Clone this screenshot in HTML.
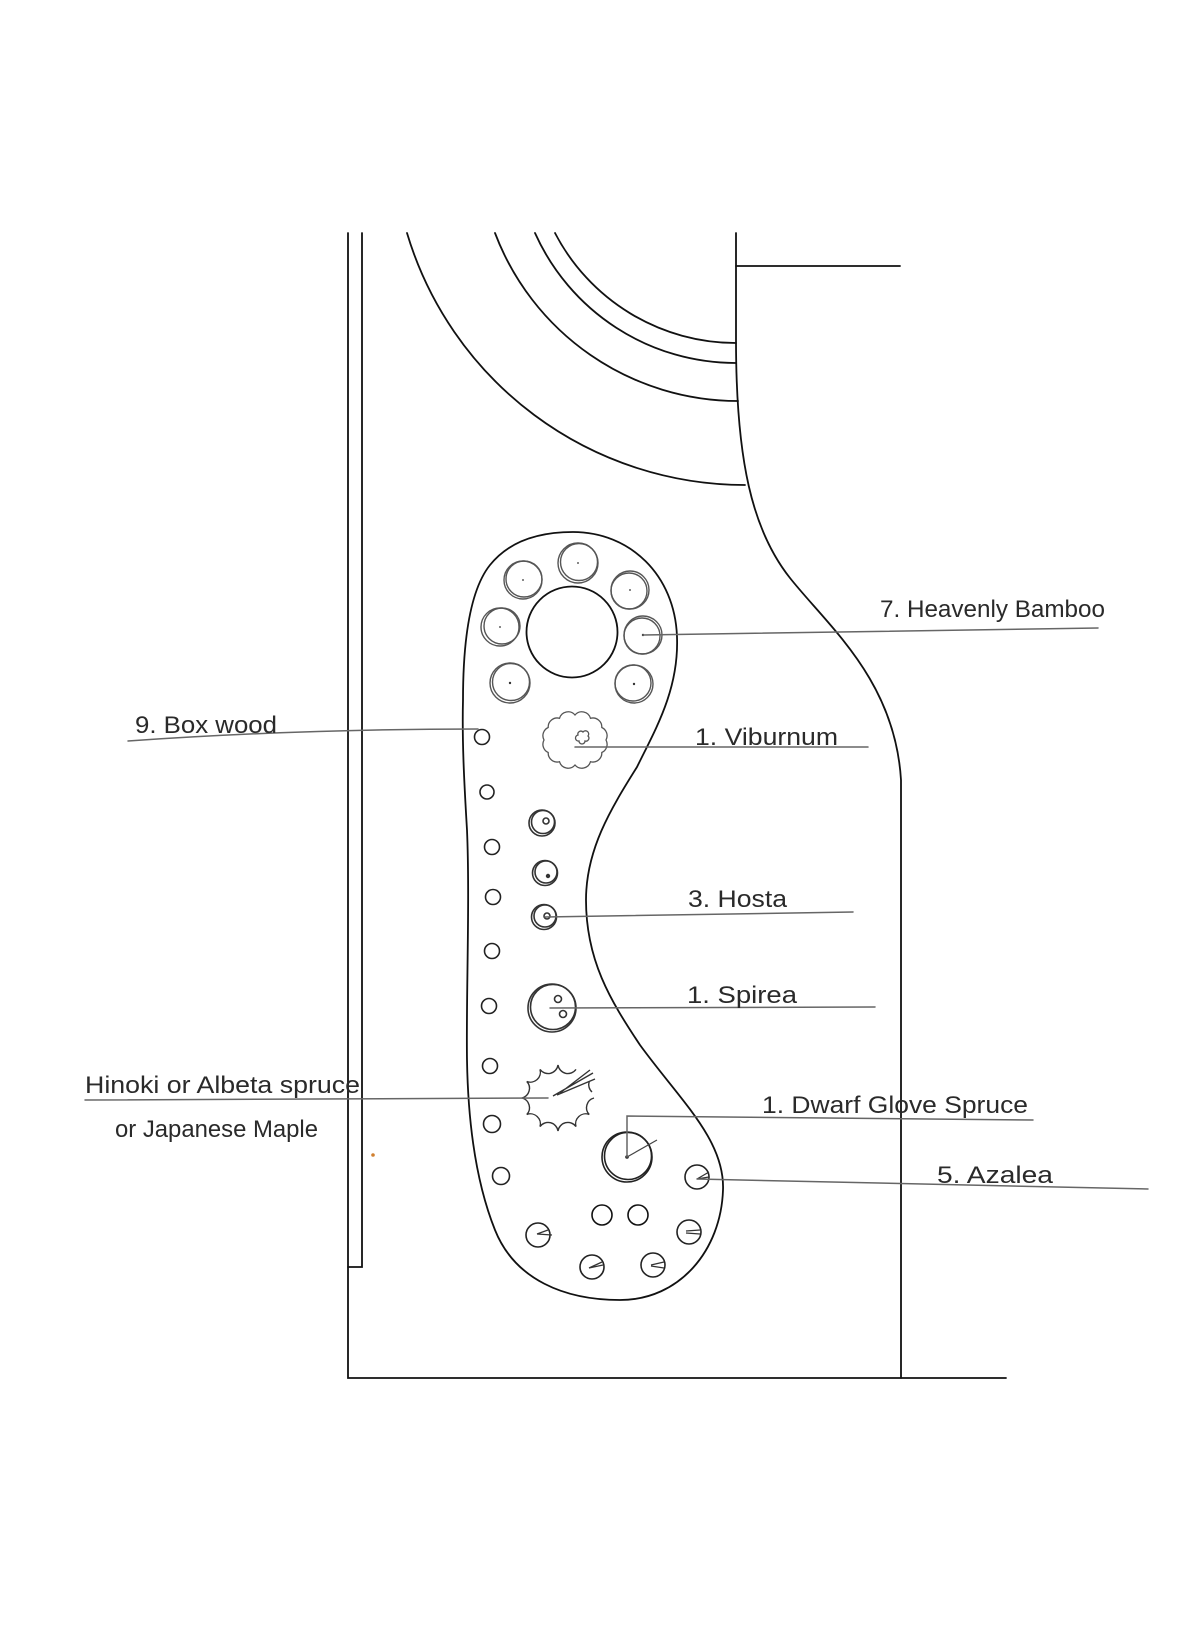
<!DOCTYPE html>
<html>
<head>
<meta charset="utf-8">
<style>
  html, body { margin: 0; padding: 0; background: #ffffff; }
  body { width: 1200px; height: 1650px; overflow: hidden; }
  svg { display: block; }
</style>
</head>
<body>
<svg width="1200" height="1650" viewBox="0 0 1200 1650" xmlns="http://www.w3.org/2000/svg">
  <rect x="0" y="0" width="1200" height="1650" fill="#ffffff"/>

  <!-- Structural lines -->
  <g fill="none" stroke="#111" stroke-width="1.8" stroke-linecap="round">
    <path d="M348,233 V1378 H1006"/>
    <path d="M362,233 V1267 H348"/>
    <path d="M736,233 V340 C736,460 752,530 790,578 C828,626 895,680 901,780 V1378"/>
    <path d="M736,266 H900"/>
    <!-- arcs -->
    <path d="M555,233 A204 204 0 0 0 736,343"/>
    <path d="M535,233 A220 220 0 0 0 736,363"/>
    <path d="M495,233 A260 260 0 0 0 738,401"/>
    <path d="M407,233 A353 353 0 0 0 745,485"/>
    <!-- planting bed -->
    <path d="M573,532 C630,532 675,575 677,637 C679,690 655,730 637,767 C610,810 586,850 586,900 C586,960 610,1000 640,1045 C680,1100 725,1140 723,1190 C721,1250 680,1300 620,1300 C565,1300 515,1280 495,1230 C475,1180 468,1120 467,1060 C466,1000 470,900 467,830 C464,780 462,740 463,700 C463,640 470,590 490,565 C510,540 540,532 573,532 Z"/>
    <!-- central circle -->
    <circle cx="572" cy="632" r="45.5"/>
  </g>

  <!-- Heavenly Bamboo circles -->
  <g fill="none" stroke="#555" stroke-width="1.4">
    <circle cx="523" cy="580" r="19"/><circle cx="524" cy="579" r="18"/>
    <circle cx="578" cy="563" r="20"/><circle cx="579" cy="562" r="18.5"/>
    <circle cx="630" cy="590" r="19"/><circle cx="629" cy="591" r="18"/>
    <circle cx="643" cy="635" r="19"/><circle cx="642" cy="636" r="18"/>
    <circle cx="500" cy="627" r="19"/><circle cx="502" cy="626" r="18"/>
    <circle cx="510" cy="683" r="20"/><circle cx="511" cy="682" r="18.5"/>
    <circle cx="634" cy="684" r="19"/><circle cx="633" cy="683" r="18"/>
  </g>
  <g fill="#333">
    <circle cx="523" cy="580" r="0.9"/><circle cx="578" cy="563" r="0.9"/>
    <circle cx="630" cy="590" r="0.9"/><circle cx="643" cy="635" r="1.2"/>
    <circle cx="500" cy="627" r="0.9"/><circle cx="510" cy="683" r="1.2"/>
    <circle cx="634" cy="684" r="1.2"/>
  </g>

  <!-- Viburnum cloud -->
  <g fill="none" stroke="#555" stroke-width="1.3">
    <path d="M606,740 A9 9 0 0 1 601.8,752.5 A9 9 0 0 1 590.5,761.7 A9 9 0 0 1 575,765 A9 9 0 0 1 559.5,761.7 A9 9 0 0 1 548.2,752.5 A9 9 0 0 1 544,740 A9 9 0 0 1 548.2,727.5 A9 9 0 0 1 559.5,718.3 A9 9 0 0 1 575,715 A9 9 0 0 1 590.5,718.3 A9 9 0 0 1 601.8,727.5 A9 9 0 0 1 606,740 Z"/>
    <path d="M578,735 A3 3 0 0 1 583,732 A3 3 0 0 1 588,736 A3 3 0 0 1 585,741 A3 3 0 0 1 579,741 A3 3 0 0 1 578,735 Z"/>
  </g>

  <!-- Box wood small circles -->
  <g fill="none" stroke="#222" stroke-width="1.6">
    <circle cx="482" cy="737" r="7.5"/>
    <circle cx="487" cy="792" r="7"/>
    <circle cx="492" cy="847" r="7.5"/>
    <circle cx="493" cy="897" r="7.5"/>
    <circle cx="492" cy="951" r="7.5"/>
    <circle cx="489" cy="1006" r="7.5"/>
    <circle cx="490" cy="1066" r="7.5"/>
    <circle cx="492" cy="1124" r="8.5"/>
    <circle cx="501" cy="1176" r="8.5"/>
  </g>

  <!-- Hosta -->
  <g fill="none" stroke="#333" stroke-width="1.6">
    <circle cx="542" cy="823" r="13"/><circle cx="543" cy="822" r="11.5"/>
    <circle cx="546" cy="821" r="3"/>
    <circle cx="545" cy="873" r="12.5"/><circle cx="546" cy="872" r="11"/>
    <circle cx="544" cy="917" r="12.5"/><circle cx="545" cy="916" r="11"/>
    <circle cx="547" cy="916" r="3"/>
  </g>
  <circle cx="548" cy="876" r="2.2" fill="#333"/>

  <!-- Spirea -->
  <g fill="none" stroke="#333" stroke-width="1.6">
    <circle cx="552" cy="1008" r="24"/><circle cx="553" cy="1007" r="22.5"/>
    <circle cx="558" cy="999" r="3.5"/>
    <circle cx="563" cy="1014" r="3.5"/>
  </g>

  <!-- Hinoki spiky circle -->
  <g fill="none" stroke="#333" stroke-width="1.4">
    <path d="M594,1098 A10 10 0 0 0 589.2,1114.5 A10 10 0 0 0 576,1126.6 A10 10 0 0 0 558,1131 A10 10 0 0 0 540,1126.6 A10 10 0 0 0 526.8,1114.5 A10 10 0 0 0 522,1098 A10 10 0 0 0 526.8,1081.5 A10 10 0 0 0 540,1069.4 A10 10 0 0 0 558,1065 A10 10 0 0 0 576,1069.4"/>
    <path d="M589.2,1081.5 A10 10 0 0 0 592,1092"/>
    <path d="M553,1096 L593,1073 M557,1095 L595,1079 M560,1093 L590,1070"/>
  </g>

  <!-- Dwarf Globe Spruce -->
  <g fill="none" stroke="#222" stroke-width="1.6">
    <circle cx="627" cy="1157" r="25"/><circle cx="628" cy="1156" r="23.5"/>
  </g>
  <circle cx="627" cy="1157" r="1.8" fill="#222"/>
  <path d="M627,1157 L657,1140" stroke="#444" stroke-width="1.2" fill="none"/>

  <!-- Azalea -->
  <g fill="none" stroke="#222" stroke-width="1.6">
    <circle cx="697" cy="1177" r="12"/>
    <circle cx="689" cy="1232" r="12"/>
    <circle cx="653" cy="1265" r="12"/>
    <circle cx="592" cy="1267" r="12"/>
    <circle cx="538" cy="1235" r="12"/>
  </g>
  <g fill="none" stroke="#333" stroke-width="1.3">
    <path d="M697,1179 L709,1172 M697,1179 L709,1177"/>
    <path d="M686,1231 L700,1230 M686,1233 L700,1234"/>
    <path d="M651,1265 L664,1262 M651,1266 L664,1268"/>
    <path d="M589,1268 L602,1262 M589,1268 L603,1265"/>
    <path d="M537,1234 L552,1235 M537,1234 L548,1230"/>
  </g>

  <!-- two small circles -->
  <g fill="none" stroke="#111" stroke-width="1.6">
    <circle cx="602" cy="1215" r="10"/>
    <circle cx="638" cy="1215" r="10"/>
  </g>

  <!-- Leader lines -->
  <g fill="none" stroke="#666" stroke-width="1.5" stroke-linecap="round">
    <path d="M128,741 Q300,729 478,729"/>
    <path d="M85,1100 L548,1098"/>
    <path d="M643,635 L1098,628"/>
    <path d="M575,747 L868,747"/>
    <path d="M545,917 L853,912"/>
    <path d="M550,1008 L875,1007"/>
    <path d="M627,1157 L627,1116 L1033,1120"/>
    <path d="M697,1179 L1148,1189"/>
  </g>

  <!-- small orange mark -->
  <circle cx="373" cy="1155" r="1.8" fill="#d08030"/>

  <!-- Labels -->
  <g font-family="'Liberation Sans', sans-serif" font-size="24" fill="#2a2a2a">
    <text x="135" y="733" textLength="142" lengthAdjust="spacingAndGlyphs">9. Box wood</text>
    <text x="85" y="1093" textLength="275" lengthAdjust="spacingAndGlyphs">Hinoki  or  Albeta spruce</text>
    <text x="115" y="1137" textLength="203" lengthAdjust="spacingAndGlyphs">or  Japanese  Maple</text>
    <text x="880" y="617" textLength="225" lengthAdjust="spacingAndGlyphs">7.  Heavenly  Bamboo</text>
    <text x="695" y="745" textLength="143" lengthAdjust="spacingAndGlyphs">1.  Viburnum</text>
    <text x="688" y="907" textLength="99" lengthAdjust="spacingAndGlyphs">3.  Hosta</text>
    <text x="687" y="1003" textLength="110" lengthAdjust="spacingAndGlyphs">1.  Spirea</text>
    <text x="762" y="1113" textLength="266" lengthAdjust="spacingAndGlyphs">1.  Dwarf  Glove  Spruce</text>
    <text x="937" y="1183" textLength="116" lengthAdjust="spacingAndGlyphs">5.  Azalea</text>
  </g>
</svg>
</body>
</html>
